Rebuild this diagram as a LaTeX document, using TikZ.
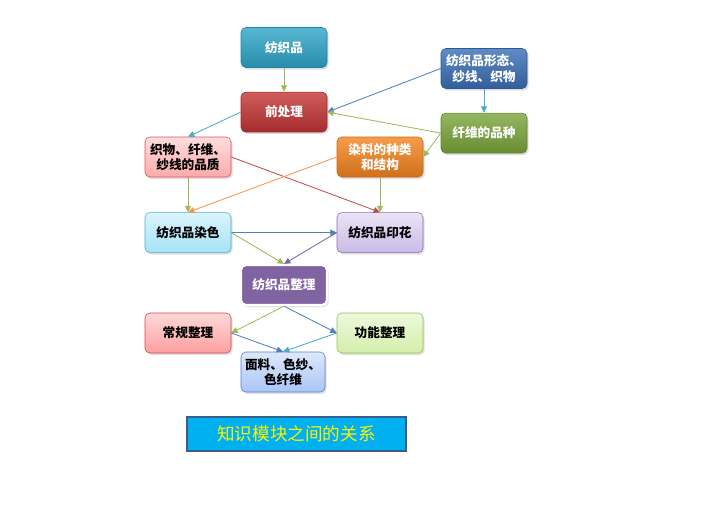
\documentclass[tikz,border=0pt]{standalone}
\usepackage{fontspec}
\setmainfont{Noto Sans CJK SC}
\usepackage{tikz}
\usetikzlibrary{positioning, arrows.meta, shadows}
\usepackage{xcolor}
\definecolor{arrgreen}{RGB}{155,187,89}
\definecolor{arrblue}{RGB}{79,129,189}
\definecolor{arrteal}{RGB}{75,172,198}
\definecolor{arrred}{RGB}{192,80,77}
\definecolor{arrorange}{RGB}{247,150,70}
\definecolor{arrpurple}{RGB}{128,100,162}
\definecolor{titlefill}{RGB}{0,176,240}
\definecolor{titleline}{RGB}{54,95,145}
\definecolor{tealbox}{RGB}{46,165,200}
\definecolor{redbox}{RGB}{195,52,52}
\definecolor{bluebox}{RGB}{58,110,182}
\definecolor{greenbox}{RGB}{122,164,58}
\definecolor{orangebox}{RGB}{244,132,30}
\definecolor{pinkbox}{RGB}{255,100,100}
\definecolor{cyanbox}{RGB}{90,205,240}
\definecolor{lilacbox}{RGB}{160,130,210}
\definecolor{rosebox}{RGB}{255,80,80}
\definecolor{limebox}{RGB}{175,225,100}
\definecolor{skybox}{RGB}{100,150,240}

\begin{document}
\begin{tikzpicture}[
    box/.style={rounded corners=0.12cm, minimum width=2.15cm, minimum height=1cm, align=center,
                font=\fontsize{9}{11}\selectfont\bfseries, inner sep=1pt,
                drop shadow={opacity=0.25, shadow xshift=0.04cm, shadow yshift=-0.05cm}},
    dark/.style={box, text=white, draw=#1!80!black, top color=#1!80!white, bottom color=#1!85!black},
    light/.style={box, text=black, draw=#1!85!black, top color=#1!22!white, bottom color=#1!55!white},
    arrow/.style={-{Triangle[length=1.6mm, width=1.5mm]}, line width=0.6pt},
    node distance=0.6cm
]
\useasboundingbox (0,0) rectangle (17.775,-12.7);

% top part
\node[dark=tealbox] (fzp) at (7.1,-1.1875) {纺织品};
\node[dark=redbox, below=of fzp] (qcl) {前处理};
\node[dark=bluebox] (xt) at (12.1,-1.7125) {纺织品形态、\\纱线、织物};
\node[dark=greenbox, below=of xt] (pz) {纤维的品种};
\node[light=pinkbox] (zw) at (4.7,-3.925) {织物、纤维、\\纱线的品质};
\node[dark=orangebox] (rl) at (9.5,-3.925) {染料的种类\\和结构};

% middle part
\node[light=cyanbox, below=0.875cm of zw] (rs) {纺织品染色};
\node[light=lilacbox, below=0.875cm of rl] (yh) {纺织品印花};
\node[box, text=white, fill=arrpurple, draw=white, line width=1.6pt] (zl) at (7.1,-7.125) {纺织品整理};

% bottom part
\node[light=rosebox] (cg) at (4.7,-8.325) {常规整理};
\node[light=limebox] (gn) at (9.5,-8.325) {功能整理};
\node[light=skybox, minimum width=2.1cm] (ml) at (7.075,-9.3) {面料、色纱、\\色纤维};

\node[draw=titleline, line width=1.4pt, fill=titlefill, text=yellow, minimum width=5.475cm,
      minimum height=0.85cm, font=\fontsize{12.5}{14}\selectfont] (title) at (7.4125,-10.85) {知识模块之间的关系};

\draw[arrow, arrgreen] (fzp) -- (qcl);
\draw[arrow, arrblue] (xt.west) -- (qcl.east);
\draw[arrow, arrteal] (xt) -- (pz);
\draw[arrow, arrgreen] (pz.west) -- (qcl.east);
\draw[arrow, arrgreen] (pz.west) -- (rl.east);
\draw[arrow, arrteal] (qcl.west) -- (zw.north);
\draw[arrow, arrred] (zw.east) -- (yh.north);
\draw[arrow, arrorange] (rl.west) -- (rs.north);
\draw[arrow, arrgreen] (zw) -- (rs);
\draw[arrow, arrgreen] (rl) -- (yh);
\draw[arrow, arrblue] (rs.east) -- (yh.west);
\draw[arrow, arrgreen] (rs.east) -- (zl.north);
\draw[arrow, arrpurple] (yh.west) -- (zl.north);
\draw[arrow, arrgreen] (zl.south) -- (cg.east);
\draw[arrow, arrblue] (zl.south) -- (gn.west);
\draw[arrow, arrblue] (cg.east) -- (ml.north);
\draw[arrow, arrteal] (gn.west) -- (ml.north);
\end{tikzpicture}
\end{document}
